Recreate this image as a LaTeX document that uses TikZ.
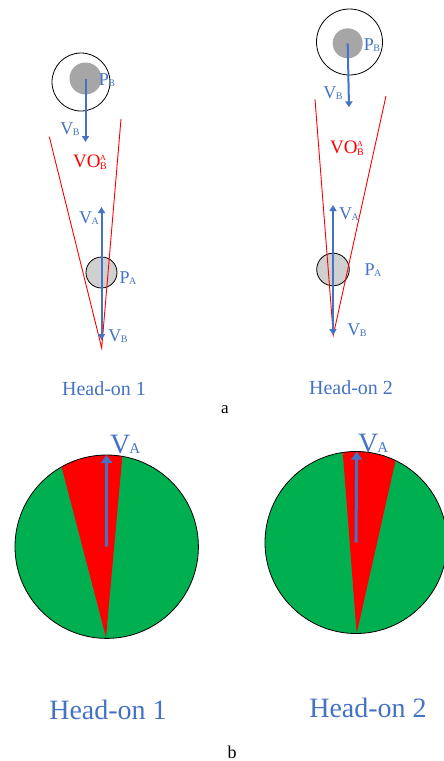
\documentclass[tikz,border=0pt]{standalone}
\usepackage{fontspec}
\setmainfont{Liberation Serif}
\usetikzlibrary{arrows.meta,calc}
\definecolor{oblue}{HTML}{4472C4}
\definecolor{ogreen}{HTML}{00B050}
\definecolor{ored}{HTML}{FF0000}
\definecolor{grayB}{HTML}{A6A6A6}
\definecolor{grayA}{HTML}{D0D0D0}
\newcommand\lsub[2]{{\fontsize{18}{18}\selectfont #1}\kern-0.5pt\raisebox{-1pt}{\fontsize{10}{10}\selectfont #2}}
\newcommand\vobig{{\fontsize{19}{19}\selectfont VO}\kern-0.5pt\rlap{\raisebox{7pt}{\fontsize{8}{8}\selectfont A}}\raisebox{-1.5pt}{\fontsize{10}{10}\selectfont B}}
\newcommand\bsub[2]{{\fontsize{28}{28}\selectfont #1}\kern-1pt{\fontsize{15}{15}\selectfont #2}}
\begin{document}
\begin{tikzpicture}[x=1pt,y=-1pt,
  lbl/.style={text=oblue, inner sep=0pt},
  varrow/.style={oblue, line width=2pt, -{Triangle[width=7pt,length=6pt]}},
  bigarrow/.style={oblue, line width=3pt, -{Triangle[width=11pt,length=8pt]}},
  cone/.style={ored, line width=0.9pt},
  ring/.style={circle, draw=black, line width=0.8pt, inner sep=0pt},
  diskB/.style={circle, fill=grayB, inner sep=0pt},
  diskA/.style={circle, fill=grayA, draw=black, line width=0.8pt, inner sep=0pt},
  captxt/.style={text=oblue, inner sep=0pt, font=\fontsize{20}{20}\selectfont},
  bigcaptxt/.style={text=oblue, inner sep=0pt, font=\fontsize{28}{28}\selectfont},
]
\useasboundingbox (0,0) rectangle (444,761);

% ---------- panel a, left ----------
\node[ring, minimum size=58pt] (Bring1) at (81,82) {};
\node[diskB, minimum size=32pt] (B1) at (85.5,78.5) {};
\coordinate (B1v) at (85.5,142);
\draw[varrow] (B1.center) -- (B1v);
\node[diskA, minimum size=31pt] (A1) at (101.5,272.5) {};
\coordinate (apex1) at (101.7,348);
\coordinate (L1) at (49.3,136.7);
\coordinate (R1) at (121,119);
\draw[cone] (L1) -- (apex1) -- (R1);
\coordinate (A1va) at (101.5,207);
\coordinate (A1vb) at (101.5,340);
\draw[varrow] (A1.center) -- (A1va);
\draw[varrow] (A1.center) -- (A1vb);
\node[lbl] (PB1) at (107,80) {\lsub{P}{B}};
\node[lbl] (VB1) at (70,129) {\lsub{V}{B}};
\node[lbl, text=ored] (VO1) at (90,162) {\vobig};
\node[lbl] (VA1) at (89,218) {\lsub{V}{A}};
\node[lbl] (PA1) at (128,278) {\lsub{P}{A}};
\node[lbl] (VBb1) at (118,336) {\lsub{V}{B}};
\node[captxt] (H1a) at (104,389) {Head-on 1};

% ---------- panel a, right ----------
\node[ring, minimum size=66pt] (Bring2) at (349.5,42) {};
\node[diskB, minimum size=30pt] (B2) at (347.7,43.3) {};
\coordinate (B2v) at (349,107.3);
\draw[varrow] (B2.center) -- (B2v);
\node[diskA, minimum size=32.6pt] (A2) at (333,269.5) {};
\coordinate (apex2) at (333.3,335);
\coordinate (L2) at (315,99.3);
\coordinate (R2) at (386,96);
\draw[cone] (L2) -- (apex2) -- (R2);
\coordinate (A2va) at (333,205);
\coordinate (A2vb) at (333,335);
\draw[varrow] (A2.center) -- (A2va);
\draw[varrow] (A2.center) -- (A2vb);
\node[lbl] (PB2) at (372,45) {\lsub{P}{B}};
\node[lbl] (VB2) at (333,93) {\lsub{V}{B}};
\node[lbl, text=ored] (VO2) at (347,148) {\vobig};
\node[lbl] (VA2) at (349,214) {\lsub{V}{A}};
\node[lbl] (PA2) at (373,270) {\lsub{P}{A}};
\node[lbl] (VBb2) at (357,330) {\lsub{V}{B}};
\node[captxt] (H2a) at (351,388) {Head-on 2};

\node[inner sep=0pt, font=\fontsize{17}{17}\selectfont] (capa) at (225,410) {a};

% ---------- panel b, left ----------
\node[circle, fill=ogreen, inner sep=0pt, minimum size=183.4pt] (G1) at (106.7,546.7) {};
\coordinate (gapex1) at (106,637.3);
\coordinate (gL1) at (61.7,467.3);
\coordinate (gR1) at (122.3,456.7);
\begin{scope}
  \clip (G1.center) circle[radius=91.7pt];
  \fill[ored] (gapex1) -- ($(gapex1)!1.4!(gL1)$) -- ($(gapex1)!1.4!(gR1)$) -- cycle;
\end{scope}
\draw[black, line width=0.8pt] (G1.center) circle[radius=91.7pt];
\coordinate (G1top) at (106.5,455);
\draw[bigarrow] (G1.center) -- (G1top);
\node[lbl, anchor=base west] (VAb1) at (110,453) {\bsub{V}{A}};
\node[bigcaptxt] (H1b) at (108,710) {Head-on 1};

% ---------- panel b, right ----------
\node[circle, fill=ogreen, inner sep=0pt, minimum size=182pt] (G2) at (356,542.5) {};
\coordinate (gapex2) at (356.7,633.3);
\coordinate (gL2) at (342.7,451.7);
\coordinate (gR2) at (395.7,460);
\begin{scope}
  \clip (G2.center) circle[radius=91pt];
  \fill[ored] (gapex2) -- ($(gapex2)!1.4!(gL2)$) -- ($(gapex2)!1.4!(gR2)$) -- cycle;
\end{scope}
\draw[black, line width=0.8pt] (G2.center) circle[radius=91pt];
\coordinate (G2top) at (356.7,451.7);
\draw[bigarrow] (G2.center) -- (G2top);
\node[lbl, anchor=base west] (VAb2) at (358,452) {\bsub{V}{A}};
\node[bigcaptxt] (H2b) at (368,708) {Head-on 2};

\node[inner sep=0pt, font=\fontsize{18}{18}\selectfont] (capb) at (232,752) {b};
\end{tikzpicture}
\end{document}
